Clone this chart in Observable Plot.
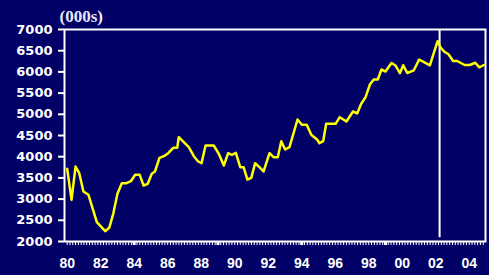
<!DOCTYPE html>
<html>
<head>
<meta charset="utf-8">
<script src="https://cdn.jsdelivr.net/npm/d3@7"></script>
<script src="https://cdn.jsdelivr.net/npm/@observablehq/plot@0.6"></script>
<style>
  html, body { margin: 0; padding: 0; background: #000066; }
  #chart svg { display: block; }
</style>
</head>
<body>
<div id="chart"></div>
<script>
// Fractional years of each vertex
const years = [1980.00,1980.26,1980.50,1980.72,1980.97,1981.27,1981.51,1981.77,1982.27,1982.51,1982.75,1983.00,1983.26,1983.54,1983.80,1984.06,1984.33,1984.56,1984.81,1985.05,1985.24,1985.51,1985.77,1986.03,1986.33,1986.57,1986.66,1986.96,1987.26,1987.56,1987.82,1988.02,1988.26,1988.75,1989.05,1989.35,1989.61,1989.83,1990.07,1990.33,1990.53,1990.76,1990.99,1991.22,1991.48,1991.72,1992.08,1992.32,1992.57,1992.78,1993.01,1993.27,1993.75,1994.01,1994.30,1994.57,1994.93,1995.06,1995.28,1995.46,1996.02,1996.27,1996.67,1997.06,1997.31,1997.55,1997.81,1998.07,1998.30,1998.54,1998.76,1999.00,1999.36,1999.60,1999.86,2000.06,2000.30,2000.69,2001.01,2001.65,2002.11,2002.30,2002.54,2002.76,2003.04,2003.28,2003.72,2004.03,2004.36,2004.60,2004.87];
// Values (thousands)
const values = [3715,2983,3769,3611,3179,3101,2795,2455,2243,2323,2653,3125,3375,3375,3422,3573,3573,3321,3361,3597,3651,3974,4012,4083,4210,4210,4460,4342,4224,4012,3887,3847,4264,4264,4068,3792,4083,4045,4092,3752,3752,3462,3502,3847,3752,3651,4083,3988,3988,4366,4170,4224,4877,4752,4752,4516,4399,4318,4366,4776,4776,4932,4830,5066,5019,5248,5403,5703,5821,5821,6057,6009,6210,6151,5969,6158,5974,6038,6292,6156,6724,6564,6469,6417,6257,6257,6163,6163,6215,6108,6163];
const yTicks = [2000,2500,3000,3500,4000,4500,5000,5500,6000,6500,7000];
const xLabelYears = [1980,1982,1984,1986,1988,1990,1992,1994,1996,1998,2000,2002,2004];
const markerYear = [2002.23];
const unitLabel = ["(000s)"];

const data = years.map((y, i) => ({year: y, value: values[i]}));
const minorTicks = d3.range(1980, 2005, 1/6);
const majorTicks = d3.range(1984, 2000, 5);

const chart = Plot.plot({
  width: 489,
  height: 275,
  marginLeft: 64,
  marginRight: 4,
  marginTop: 29,
  marginBottom: 34,
  style: {background: "#000066", color: "white", overflow: "visible"},
  x: {domain: [1979.84, 2004.97]},
  y: {domain: [2000, 7000]},
  marks: [
    Plot.axisY({ticks: yTicks, tickSize: 6, tickPadding: 6, stroke: "white", strokeWidth: 2,
      tickFormat: d3.format("d"), fontFamily: "DejaVu Sans", fontWeight: "bold", fontSize: 13, fill: "white", label: null}),
    Plot.axisX({ticks: minorTicks, tickSize: 4, strokeWidth: 1, stroke: "white", tickFormat: () => "", label: null}),
    Plot.axisX({ticks: majorTicks, tickSize: 4, strokeWidth: 3, stroke: "white", tickFormat: () => "", label: null}),
    Plot.axisX({ticks: xLabelYears, tickSize: 0, tickPadding: 17,
      tickFormat: d => String(d % 100).padStart(2, "0"),
      fontFamily: "Liberation Sans", fontWeight: "bold", fontSize: 14, fill: "white", label: null,
      style: {letterSpacing: "1px"}}),
    Plot.frame({stroke: "white", strokeWidth: 2}),
    Plot.ruleX(markerYear, {y1: 2090, y2: 7000, stroke: "white", strokeWidth: 2}),
    Plot.line(data, {x: "year", y: "value", stroke: "#ffff00", strokeWidth: 2.5}),
    Plot.text(unitLabel, {frameAnchor: "top-left", textAnchor: "start", lineAnchor: "middle", dx: -5, dy: -13,
      fontFamily: "Liberation Serif", fontWeight: "bold", fontSize: 17, fill: "#e8e8f4"})
  ]
});
document.getElementById("chart").appendChild(chart);
</script>
</body>
</html>
